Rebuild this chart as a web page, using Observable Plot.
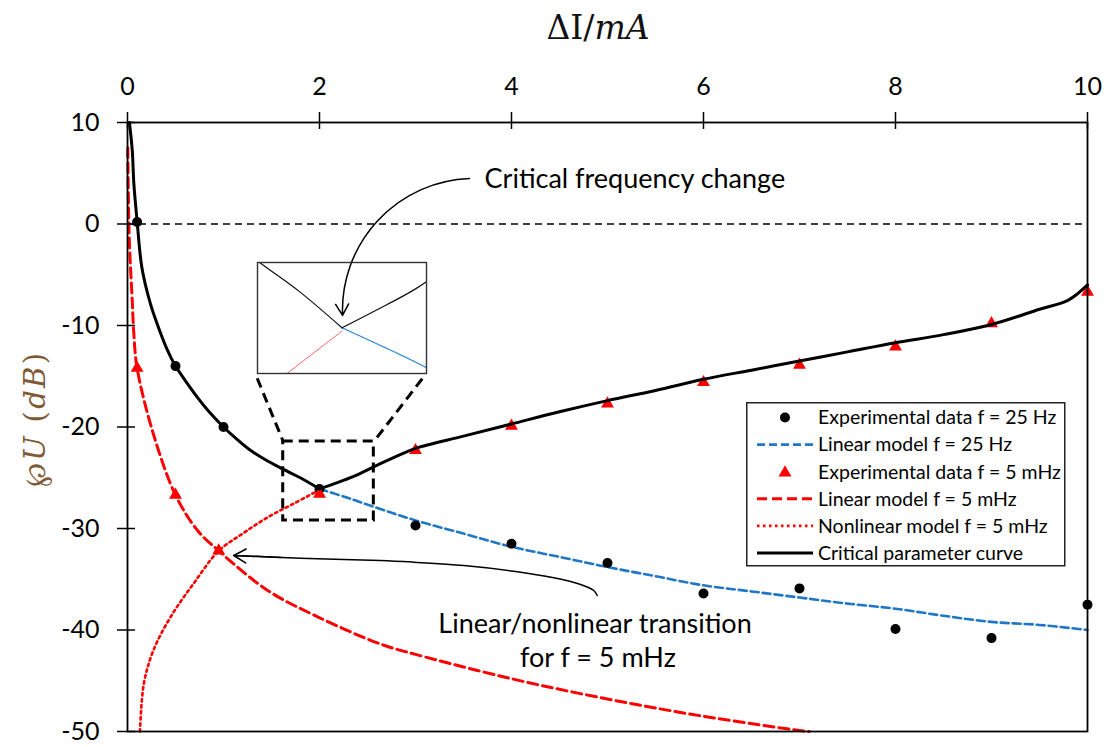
<!DOCTYPE html>
<html><head><meta charset="utf-8">
<script src="https://cdn.jsdelivr.net/npm/d3@7"></script>
<script src="https://cdn.jsdelivr.net/npm/@observablehq/plot@0.6"></script>
<style>
html,body{margin:0;padding:0;background:#fff;}
#wrap{position:relative;width:1110px;height:747px;overflow:hidden;}
#wrap svg{display:block;}
.overlay{position:absolute;}
</style></head><body><div id="wrap"></div>
<script>
// ---------- data ----------
const xTicks = [0, 2, 4, 6, 8, 10];
const yTicks = [10, 0, -10, -20, -30, -40, -50];

// Critical parameter curve
const critX = [0.02,0.05,0.066,0.1,0.15,0.24,0.3,0.41,0.5,0.6,0.73,0.85,1.0,1.15,1.28,1.45,1.61,1.8,2.0,2.15,2.35,2.57,2.8,3.0,3.5,4.0,4.5,5.0,5.5,6.0,6.5,7.0,7.5,8.0,8.5,9.0,9.5,9.8,10];
const critY = [10,7.2,4.0,0.3,-4.3,-7.9,-9.6,-12.3,-14.0,-15.4,-17.1,-18.5,-20.0,-21.3,-22.3,-23.3,-24.1,-25.0,-26.1,-25.6,-24.9,-23.9,-22.9,-22.1,-20.9,-19.7,-18.5,-17.4,-16.4,-15.3,-14.4,-13.5,-12.6,-11.7,-10.9,-9.9,-8.4,-7.5,-6.0];

// Linear model f = 25 Hz
const lin25X = [2.0,2.3,2.64,3.0,3.5,4.0,4.5,5.0,5.5,6.0,6.5,7.0,7.5,8.0,8.5,9.0,9.5,10];
const lin25Y = [-26.1,-27.0,-28.1,-29.2,-30.5,-31.8,-32.8,-33.8,-34.7,-35.6,-36.2,-36.8,-37.4,-37.9,-38.6,-39.2,-39.5,-40.0];

// Linear model f = 5 mHz
const lin5X = [0.003,0.017,0.049,0.066,0.1,0.27,0.5,0.73,0.95,1.46,1.98,2.64,3.0,4.0,5.0,6.0,7.0,7.1];
const lin5Y = [7.5,-1.0,-7.5,-10.8,-14.2,-20.7,-26.7,-30.2,-32.2,-36.1,-38.7,-41.4,-42.4,-44.8,-46.8,-48.5,-49.9,-50];

// Nonlinear model f = 5 mHz
const nonlinX = [0.13,0.17,0.27,0.45,0.69,0.95,1.2,1.46,1.72,2.0];
const nonlinY = [-50,-45.3,-42.0,-38.7,-35.4,-32.2,-30.5,-28.9,-27.6,-26.2];

// Experimental data
const exp25X = [0.1,0.5,1,2,3,4,5,6,7,8,9,10];
const exp25Y = [0.2,-14.0,-20.0,-26.1,-29.7,-31.5,-33.4,-36.4,-35.9,-39.9,-40.8,-37.5];
const exp5X = [0.1,0.5,0.95,2,3,4,5,6,7,8,9,10];
const exp5Y = [-14.2,-26.7,-32.2,-26.6,-22.3,-19.9,-17.7,-15.6,-13.9,-12.1,-9.8,-6.7];

// Legend labels
const legendLabels = ["Experimental data f = 25 Hz","Linear model f = 25 Hz","Experimental data f = 5 mHz","Linear model f = 5 mHz","Nonlinear model f = 5 mHz","Critical parameter curve"];

// Annotation geometry (data units)
const zoomBox = [{x1:1.622, x2:2.566, y1:-21.43, y2:-29.21}];
const insetBox = {x1:1.351, x2:3.115, y1:-3.82, y2:-14.76};
const insetDomainX = [1.6, 2.4];
const insetDomainY = [-27.5, -24.1];
const connectors = [{x1:1.351,y1:-15.2,x2:1.622,y2:-21.43},{x1:3.07,y1:-15.25,x2:2.566,y2:-21.43}];
const arrow1 = [{x1:3.5625, y1:4.48, x2:2.24, y2:-9.01}];
const arrow2X = [4.893,4.857,4.719,4.441,4.024,3.503,2.982,2.635,1.802,1.177,1.107];
const arrow2Y = [-36.60,-36.11,-35.52,-34.86,-34.21,-33.65,-33.32,-33.15,-32.93,-32.69,-32.66];
const arrow2Head = [{x1:1.6, y1:-32.85, x2:1.107, y2:-32.66}];
const notes = [
  {x:3.72, y:4.38, t:"Critical frequency change", a:"start"},
  {x:4.87, y:-39.43, t:"Linear/nonlinear transition", a:"middle"},
  {x:4.90, y:-42.81, t:"for f = 5 mHz", a:"middle"}
];

// ---------- build tables ----------
const zip = (X, Y) => X.map((x, i) => ({x, y: Y[i]}));
// critical curve split into its two branches at the minimum (shared point)
const iMin = critY.indexOf(Math.min(...critY));
const crit = [
  ...critX.slice(0, iMin + 1).map((x, i) => ({x, y: critY[i], seg: "a"})),
  ...critX.slice(iMin).map((x, i) => ({x, y: critY[iMin + i], seg: "b"}))
];
const lin25 = zip(lin25X, lin25Y);
const lin5 = zip(lin5X, lin5Y);
const nonlin = zip(nonlinX, nonlinY);
const exp25 = zip(exp25X, exp25Y);
const exp5 = zip(exp5X, exp5Y);
const arrow2 = zip(arrow2X, arrow2Y);

const FONT = "Lato, 'Open Sans', sans-serif";
const BLUE = "#1f77c8";
const RED = "#ff0000";

const chart = Plot.plot({
  width: 1110, height: 747,
  marginLeft: 127, marginRight: 23, marginTop: 122, marginBottom: 16,
  x: {domain: [0, 10]},
  y: {domain: [-50, 10]},
  style: {fontFamily: FONT, background: "#fff", color: "#000"},
  marks: [
    Plot.axisX(xTicks, {anchor: "top", tickSize: 0, tickPadding: 28, fontSize: 25, label: null}),
    Plot.axisY(yTicks, {anchor: "left", tickSize: 0, tickPadding: 28, fontSize: 25, label: null, tickFormat: d => String(d)}),
    Plot.ruleY([0], {stroke: "#000", strokeWidth: 1.3, strokeDasharray: "7,5"}),
    Plot.line(lin5, {x: "x", y: "y", stroke: RED, strokeWidth: 3, strokeDasharray: "10,5", curve: "catmull-rom"}),
    Plot.line(nonlin, {x: "x", y: "y", stroke: RED, strokeWidth: 2.6, strokeDasharray: "2.5,3.5", curve: "catmull-rom"}),
    Plot.line(lin25, {x: "x", y: "y", stroke: BLUE, strokeWidth: 2.6, strokeDasharray: "8,4", curve: "catmull-rom"}),
    Plot.dot(exp25, {x: "x", y: "y", r: 5, fill: "#000"}),
    Plot.dot(exp5, {x: "x", y: "y", r: 4.8, symbol: "triangle", fill: RED}),
    Plot.line(crit, {x: "x", y: "y", z: "seg", stroke: "#000", strokeWidth: 3, curve: "catmull-rom"}),
    Plot.rect(zoomBox, {x1: "x1", x2: "x2", y1: "y1", y2: "y2", fill: "none", stroke: "#000", strokeWidth: 3, strokeDasharray: "10,6"}),
    Plot.link(connectors, {x1: "x1", y1: "y1", x2: "x2", y2: "y2", stroke: "#000", strokeWidth: 3, strokeDasharray: "10,6"}),
    Plot.arrow(arrow1, {x1: "x1", y1: "y1", x2: "x2", y2: "y2", bend: -45, stroke: "#000", strokeWidth: 1.5, headLength: 13}),
    Plot.line(arrow2, {x: "x", y: "y", stroke: "#000", strokeWidth: 1.5, curve: "catmull-rom"}),
    Plot.arrow(arrow2Head, {x1: "x1", y1: "y1", x2: "x2", y2: "y2", stroke: "#000", strokeWidth: 1.5, headLength: 14}),
    Plot.text(notes, {x: "x", y: "y", text: "t", fontSize: 27, fill: "#000"}),
    Plot.frame({stroke: "#000", strokeWidth: 1.8}),
    Plot.ruleX(xTicks, {x: d => d, y1: 10, y2: 10, insetTop: -10, insetBottom: -7, stroke: "#000", strokeWidth: 1.5}),
    Plot.ruleY(yTicks, {y: d => d, x1: 0, x2: 0, insetLeft: -10, insetRight: -8, stroke: "#000", strokeWidth: 1.5})
  ]
});

const wrap = document.getElementById("wrap");
wrap.appendChild(chart);

const svg = d3.select(chart);
// per-note text anchors
svg.selectAll("text").each(function() {
  const t = this.textContent;
  const n = notes.find(d => d.t === t);
  if (n) d3.select(this).attr("text-anchor", n.a);
});

// Axis title (top)
const sx = chart.scale("x"), sy = chart.scale("y");
const title = svg.append("text")
  .attr("x", 598).attr("y", 39).attr("text-anchor", "middle")
  .attr("font-family", "'DejaVu Serif', 'Liberation Serif', serif").attr("font-size", 33).attr("fill", "#111");
title.append("tspan").text("ΔI/");
title.append("tspan").attr("font-style", "italic").text("mA");

// Y axis label (rotated)
const ylab = svg.append("text")
  .attr("transform", `translate(45,420) rotate(-90)`)
  .attr("text-anchor", "middle")
  .attr("font-family", "'DejaVu Serif', 'Liberation Serif', serif").attr("font-size", 29).attr("fill", "#7f5a36")
  .attr("textLength", 134).attr("lengthAdjust", "spacing");
ylab.append("tspan").text("℘");
ylab.append("tspan").attr("font-style", "italic").text("U");
ylab.append("tspan").text(" (");
ylab.append("tspan").attr("font-style", "italic").text("dB");
ylab.append("tspan").text(")");

// ---------- inset ----------
const iL = sx.apply(insetBox.x1), iR = sx.apply(insetBox.x2);
const iT = sy.apply(insetBox.y1), iB = sy.apply(insetBox.y2);
const inset = Plot.plot({
  width: Math.round(iR - iL), height: Math.round(iB - iT), margin: 0,
  x: {domain: insetDomainX, axis: null},
  y: {domain: insetDomainY, axis: null},
  style: {background: "transparent", overflow: "visible"},
  marks: [
    Plot.line(nonlin, {x: "x", y: "y", stroke: "#ff6060", strokeWidth: 1, clip: true, curve: "catmull-rom"}),
    Plot.line(lin25, {x: "x", y: "y", stroke: "#3b8fd8", strokeWidth: 1.3, strokeDasharray: "2,1", clip: true, curve: "catmull-rom"}),
    Plot.line(crit, {x: "x", y: "y", z: "seg", stroke: "#111", strokeWidth: 1.2, clip: true, curve: "catmull-rom"}),
    Plot.frame({stroke: "#333", strokeWidth: 1.4})
  ]
});
inset.classList.add("overlay");
inset.style.left = iL + "px";
inset.style.top = iT + "px";
wrap.appendChild(inset);

// ---------- legend ----------
const lg = d3.select(wrap).append("svg").attr("class", "overlay")
  .style("left", "746px").style("top", "402px")
  .attr("width", 320).attr("height", 165);
lg.append("rect").attr("x", 0.75).attr("y", 0.75).attr("width", 318).attr("height", 163)
  .attr("fill", "#fff").attr("stroke", "#222").attr("stroke-width", 1.5);
const rowY = i => 15.5 + i * 27.1;
const sym = [
  g => g.append("circle").attr("cx", 39).attr("r", 5).attr("fill", "#000"),
  g => g.append("line").attr("x1", 11).attr("x2", 67).attr("stroke", BLUE).attr("stroke-width", 2.6).attr("stroke-dasharray", "8,4"),
  g => g.append("path").attr("transform", "translate(39,1)").attr("d", d3.symbol(d3.symbolTriangle, 72)()).attr("fill", RED),
  g => g.append("line").attr("x1", 11).attr("x2", 67).attr("stroke", RED).attr("stroke-width", 3).attr("stroke-dasharray", "10,5"),
  g => g.append("line").attr("x1", 11).attr("x2", 67).attr("stroke", RED).attr("stroke-width", 2.6).attr("stroke-dasharray", "2.5,3.5"),
  g => g.append("line").attr("x1", 11).attr("x2", 67).attr("stroke", "#000").attr("stroke-width", 3)
];
legendLabels.forEach((lab, i) => {
  const g = lg.append("g").attr("transform", `translate(0,${rowY(i)})`);
  sym[i](g);
  g.append("text").attr("x", 72).attr("y", 0).attr("dy", "0.35em")
    .attr("font-family", FONT).attr("font-size", 19.5).attr("fill", "#000").text(lab);
});
</script></body></html>
